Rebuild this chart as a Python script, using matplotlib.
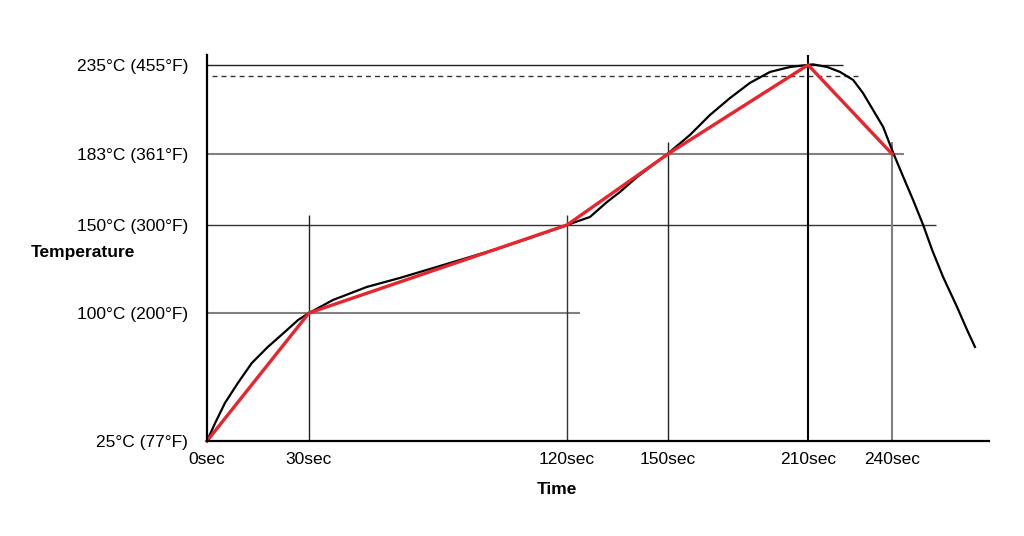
import numpy as np
import matplotlib.pyplot as plt

plt.rcParams['font.family'] = ['Liberation Sans', 'DejaVu Sans']

# ejes (etiquetas)
t_ticks = [0, 30, 120, 150, 210, 240]
t_labels = ['0sec', '30sec', '120sec', '150sec', '210sec', '240sec']
temp_ticks = [25, 100, 150, 183, 235]
temp_labels = ['25°C (77°F)', '100°C (200°F)', '150°C (300°F)',
               '183°C (361°F)', '235°C (455°F)']

# perfil ideal (rojo)
ideal_t = [0, 30, 120, 150, 210, 240]
ideal_temp = [25, 100, 150, 183, 235, 183]

# curva real (negra)
real_t = [0, 2.4, 5.3, 9.1, 13.2, 17.9, 22.9, 26.8, 30,
          38.4, 50.2, 61.7, 79.2, 96.6, 108.1, 120,
          126.8, 131.9, 135.7, 140.8, 150,
          159.4, 168, 176.6, 185.1, 193.7, 202.3, 210, 211.8,
          216.8, 221.4, 226.1, 229.6, 233.2, 236.8, 240.4,
          244, 247.5, 251.1, 254.3, 258.2, 263.2, 266.8, 269.6]
real_temp = [25, 35.5, 47.3, 59, 70.7, 80.1, 88.9, 95.9, 100,
             107.4, 114.8, 119.9, 128.4, 136.9, 143.2, 150,
             153.7, 160.7, 165.3, 172.3, 183.3,
             194.1, 205.8, 215.7, 224.5, 230.9, 233.8, 235, 235.3,
             233.8, 230.9, 226.2, 218.6, 208.7, 198.8, 183.6,
             172.3, 161.6, 150, 135.8, 120.5, 103.4, 90, 80.1]

# lineas de referencia
h_temp = [235, 183, 150, 100]
h_end = [222.5, 244.3, 255.7, 123.9]
h_col = ['#222222', '#808080', '#333333', '#808080']
v_t = [30, 120, 150, 210, 240]
v_top = [154.6, 154.6, 190, 240.8, 190]
v_col = ['#222222', '#333333', '#222222', '#000000', '#808080']
dash_temp = 228.6
dash_end = 229.3

# el eje no esta a escala: tramos lineales entre las marcas
xn_in = [-100, 0, 30, 120, 150, 210, 240, 300]
xn_out = [-340, 0, 102, 360, 461, 601, 685, 853]
yn_in = [-100, 25, 100, 150, 183, 235, 400]
yn_out = [-213, 0, 128, 216, 287, 376, 658]

fx = (lambda v: np.interp(v, xn_in, xn_out), lambda v: np.interp(v, xn_out, xn_in))
fy = (lambda v: np.interp(v, yn_in, yn_out), lambda v: np.interp(v, yn_out, yn_in))

fig = plt.figure(figsize=(10.24, 5.36), dpi=100)
ax = fig.add_axes([0.2021, 0.1772, 0.7637, 0.7202])
ax.set_xscale('function', functions=fx)
ax.set_yscale('function', functions=fy)
ax.set_xlim(0, 274.6)
ax.set_ylim(25, 240.8)

for y, e, c in zip(h_temp, h_end, h_col):
    lw = 1.5 if c == '#808080' else 1.0
    ax.hlines(y, 0, e, colors=c, lw=lw, zorder=1, clip_on=False)
for x, top, c in zip(v_t, v_top, v_col):
    lw = 1.5 if x in (210, 240) else 1.0
    ax.vlines(x, 25, top, colors=c, lw=lw, zorder=1, clip_on=False)
ax.hlines(dash_temp, 1.5, dash_end, colors='#333333', lw=1.0,
          linestyles=(0, (3.6, 2.9)), zorder=1, clip_on=False)

ax.plot(real_t, real_temp, color='black', lw=1.6, zorder=2, clip_on=False,
        solid_joinstyle='round')
ax.plot(ideal_t, ideal_temp, color='#e8242c', lw=2.4, zorder=3, clip_on=False)

ax.set_xticks(t_ticks, t_labels)
ax.set_yticks(temp_ticks, temp_labels)
ax.minorticks_off()
ax.tick_params(axis='x', length=0, pad=8, labelsize=12.5)
ax.tick_params(axis='y', length=0, pad=13.5, labelsize=12.5)
for s in ['top', 'right']:
    ax.spines[s].set_visible(False)
for s in ['left', 'bottom']:
    ax.spines[s].set_linewidth(1.6)
    ax.spines[s].set_zorder(4)

fig.text(83 / 1024, 1 - 253 / 536, 'Temperature', ha='center', va='center',
         fontsize=12.5, fontweight='bold')
fig.text(557 / 1024, 1 - 490 / 536, 'Time', ha='center', va='center',
         fontsize=12.5, fontweight='bold')

fig.savefig('out.png', dpi=100)
